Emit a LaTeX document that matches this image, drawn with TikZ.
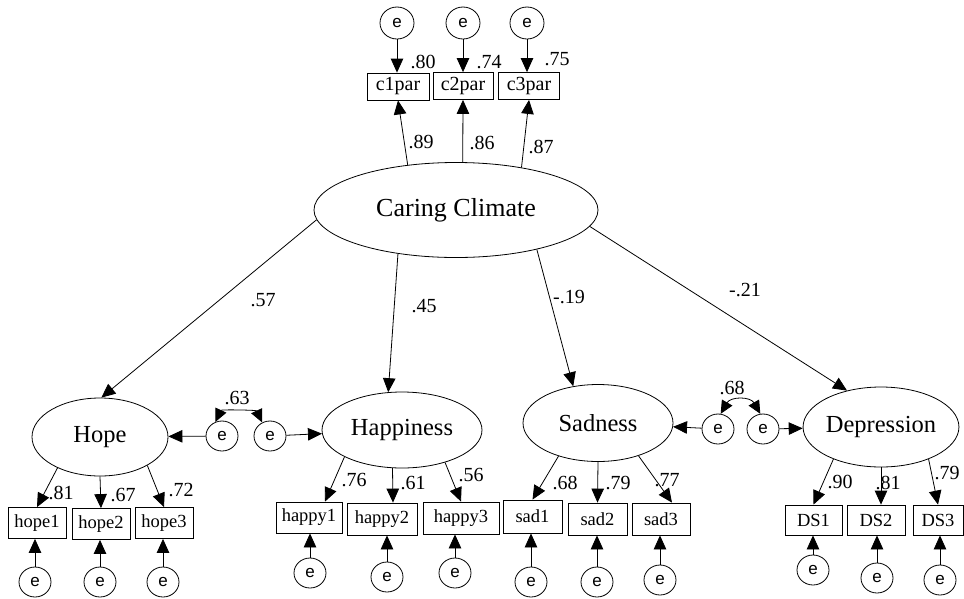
\documentclass[tikz,border=0pt]{standalone}
\usepackage{fontspec}
\setmainfont{Liberation Serif}
\newfontfamily\esans{Liberation Sans}
\usetikzlibrary{shapes.geometric,arrows.meta,calc}
\begin{document}
\begin{tikzpicture}[x=1pt,y=-1pt,
  lat/.style={draw,ellipse,line width=0.8pt,inner sep=0pt,font=\fontsize{24.5}{26}\selectfont},
  obs/.style={draw,rectangle,line width=0.8pt,inner sep=0pt,font=\fontsize{18.5}{20}\selectfont},
  err/.style={draw,ellipse,line width=0.8pt,minimum width=32pt,minimum height=30pt,inner sep=0pt,font=\esans\fontsize{17}{18}\selectfont},
  arr/.style={-{Triangle[length=14pt,width=12.5pt]},line width=0.8pt},
  cov/.style={{Triangle[length=13pt,width=12pt]}-{Triangle[length=13pt,width=12pt]},line width=0.8pt},
  lbl/.style={font=\fontsize{20}{22}\selectfont,inner sep=0pt}
]
\useasboundingbox (0,0) rectangle (964,598);
% latent variables
\node[lat,minimum width=284pt,minimum height=95pt,font=\fontsize{26}{28}\selectfont] (cc) at (456,210) {Caring Climate};
\node[lat,minimum width=136pt,minimum height=78pt] (hope) at (100,437) {Hope};
\node[lat,minimum width=160pt,minimum height=76pt] (hap) at (402,430) {Happiness};
\node[lat,minimum width=150pt,minimum height=77pt] (sad) at (598,423) {Sadness};
\node[lat,minimum width=152pt,minimum height=80pt] (dep) at (881,427) {Depression};
% observed
\node[obs,minimum width=62pt,minimum height=27pt,font=\fontsize{20}{22}\selectfont] (c1) at (398,86.5) {c1par};
\node[obs,minimum width=60pt,minimum height=27pt,font=\fontsize{20}{22}\selectfont] (c2) at (463,86) {c2par};
\node[obs,minimum width=61pt,minimum height=27pt,font=\fontsize{20}{22}\selectfont] (c3) at (529,86) {c3par};
\node[obs,minimum width=58pt,minimum height=31pt] (h1) at (37,523) {hope1};
\node[obs,minimum width=58pt,minimum height=31pt] (h2) at (101,524) {hope2};
\node[obs,minimum width=58pt,minimum height=31pt] (h3) at (164,523) {hope3};
\node[obs,minimum width=66pt,minimum height=31pt] (p1) at (309,517.5) {happy1};
\node[obs,minimum width=70pt,minimum height=32pt] (p2) at (382,519) {happy2};
\node[obs,minimum width=76pt,minimum height=32pt] (p3) at (461,518) {happy3};
\node[obs,minimum width=59pt,minimum height=33pt] (s1) at (532.5,516.5) {sad1};
\node[obs,minimum width=59pt,minimum height=32pt] (s2) at (597.5,519) {sad2};
\node[obs,minimum width=58pt,minimum height=32pt] (s3) at (661,519) {sad3};
\node[obs,minimum width=57pt,minimum height=30pt] (d1) at (813.5,520) {DS1};
\node[obs,minimum width=58pt,minimum height=30pt] (d2) at (876,520) {DS2};
\node[obs,minimum width=50pt,minimum height=30pt] (d3) at (938,520) {DS3};
% error terms
\node[err,minimum width=34pt,minimum height=32pt] (te1) at (397,23) {e};
\node[err,minimum width=34pt,minimum height=32pt] (te2) at (463,23) {e};
\node[err,minimum width=34pt,minimum height=32pt] (te3) at (527,23) {e};
\node[err] (eh1) at (35,582) {e};
\node[err] (eh2) at (100,582) {e};
\node[err] (eh3) at (163,582) {e};
\node[err] (ep1) at (310,573) {e};
\node[err] (ep2) at (387,577) {e};
\node[err] (ep3) at (455,573) {e};
\node[err] (es1) at (531,582) {e};
\node[err] (es2) at (597,582) {e};
\node[err] (es3) at (660,580) {e};
\node[err] (ed1) at (813,570) {e};
\node[err] (ed2) at (877,578) {e};
\node[err] (ed3) at (940,580) {e};
\node[err] (e1) at (222,436) {e};
\node[err] (e2) at (270,436) {e};
\node[err] (e3) at (718,429) {e};
\node[err] (e4) at (763,429) {e};
% labels
\node[lbl] (l80) at (423,62) {.80};
\node[lbl] (l74) at (489,62) {.74};
\node[lbl] (l75) at (557,59) {.75};
\node[lbl] (l89) at (421,142) {.89};
\node[lbl] (l86) at (482,143) {.86};
\node[lbl] (l87) at (541,147) {.87};
\node[lbl] (l57) at (263,300) {.57};
\node[lbl] (l45) at (424,306) {.45};
\node[lbl] (l19) at (569,297) {-.19};
\node[lbl] (l21) at (745,290) {-.21};
\node[lbl] (l63) at (237,398) {.63};
\node[lbl] (lh1) at (61,493) {.81};
\node[lbl] (lh2) at (123,495) {.67};
\node[lbl] (lh3) at (181,490) {.72};
\node[lbl] (lp1) at (354,480) {.76};
\node[lbl] (lp2) at (413,483) {.61};
\node[lbl] (lp3) at (471,475) {.56};
\node[lbl] (ls1) at (565,483) {.68};
\node[lbl] (ls2) at (618,483) {.79};
\node[lbl] (ls3) at (667,480) {.77};
\node[lbl] (l68) at (732,388) {.68};
\node[lbl] (ld1) at (840,482) {.90};
\node[lbl] (ld2) at (888,483) {.81};
\node[lbl] (ld3) at (947,473) {.79};
% top indicators
\draw[arr] (te1) -- (te1 |- c1.north);
\draw[arr] (te2) -- (te2 |- c2.north);
\draw[arr] (te3) -- (te3 |- c3.north);
\draw[arr] (cc.137.7) -- (c1.south);
\draw[arr] (cc.82) -- (c2.south);
\draw[arr] (cc.33.5) -- (c3.south);
% structural paths
\draw[arr] (cc.184.6) -- (hope.88);
\draw[arr] (cc.217.9) -- (hap.110.5);
\draw[arr] (cc.334.3) -- (sad.124.9);
\draw[arr] (cc.353.3) -- (dep.133.5);
% indicators
\draw[arr] (hope.216.2) -- (h1.north);
\draw[arr] (hope.south) -- (h2.north);
\draw[arr] (hope.329) -- (h3.north);
\draw[arr] (hap.205.1) -- ([xshift=16pt]p1.north);
\draw[arr] (hap.256.6) -- ([xshift=11pt]p2.north);
\draw[arr] (hap.323.4) -- (p3.north);
\draw[arr] (sad.220.8) -- (s1.north);
\draw[arr] (sad.south) -- (s2.north);
\draw[arr] (sad.321.2) -- ([xshift=11pt]s3.north);
\draw[arr] (dep.214.7) -- (d1.north);
\draw[arr] (dep.south) -- ([xshift=5pt]d2.north);
\draw[arr] (dep.326.3) -- (d3.north);
% measurement errors
\draw[arr] (eh1) -- (eh1 |- h1.south);
\draw[arr] (eh2) -- (eh2 |- h2.south);
\draw[arr] (eh3) -- (eh3 |- h3.south);
\draw[arr] (ep1) -- (ep1 |- p1.south);
\draw[arr] (ep2) -- (ep2 |- p2.south);
\draw[arr] (ep3) -- (ep3 |- p3.south);
\draw[arr] (es1) -- (es1 |- s1.south);
\draw[arr] (es2) -- (es2 |- s2.south);
\draw[arr] (es3) -- (es3 |- s3.south);
\draw[arr] (ed1) -- (ed1 |- d1.south);
\draw[arr] (ed2) -- (ed2 |- d2.south);
\draw[arr] (ed3) -- (ed3 |- d3.south);
% disturbances
\draw[arr] (e1) -- (hope);
\draw[arr] (e2) -- (hap);
\draw[arr] (e3) -- (sad);
\draw[arr] (e4) -- (dep);
\draw[cov] (e1.115) to[out=65,in=115,looseness=0.75] (e2.120);
\draw[cov] (e3.80) to[out=60,in=120,looseness=1.3] (e4.100);
\end{tikzpicture}
\end{document}
